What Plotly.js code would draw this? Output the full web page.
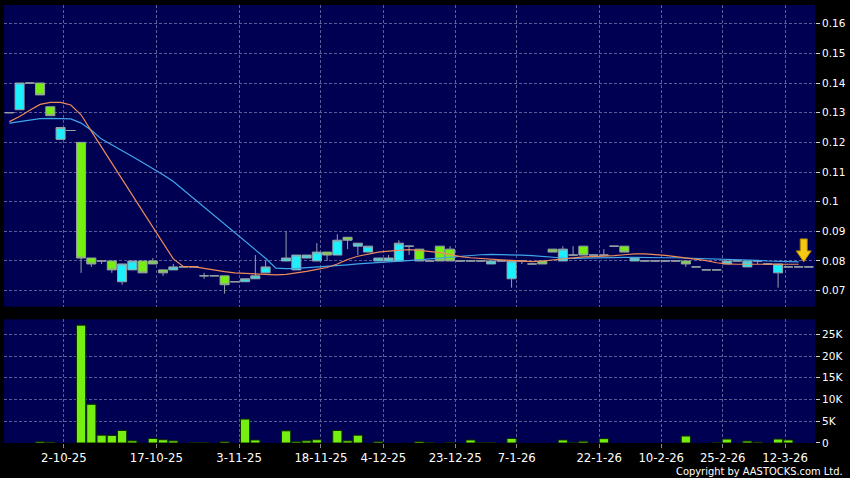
<!DOCTYPE html>
<html><head><meta charset="utf-8">
<script src="https://cdn.plot.ly/plotly-3.0.1.min.js"></script>
<style>html,body{margin:0;padding:0;background:#000;}#chart{width:850px;height:478px;}</style>
</head><body><div id="chart"></div>
<script>
// one entry per trading slot (0..78); null = no mark
const openP  = [0.130,0.131,0.140,0.140,0.132,0.121,0.124,0.120,0.081,0.080,
                0.080,0.073,0.077,0.080,0.080,0.077,0.077,0.078,0.078,0.075,
                0.075,0.075,0.073,0.073,0.074,0.076,null,0.080,0.077,0.081,
                0.080,0.083,0.082,0.088,0.085,0.083,0.080,0.080,0.080,0.085,
                0.084,0.080,0.085,0.084,0.080,0.080,0.080,0.079,0.080,0.074,
                0.080,0.079,0.080,0.084,0.080,0.082,0.085,0.082,0.082,0.085,
                0.085,0.080,0.080,0.080,0.080,0.080,0.080,0.078,0.077,0.077,
                0.079,0.080,0.078,0.080,0.079,0.076,0.078,0.078,0.078];
const highP  = [0.130,0.140,0.140,0.140,0.132,0.125,0.124,0.120,0.081,0.080,
                0.080,0.079,0.080,0.080,0.081,0.077,0.079,0.078,0.078,0.076,
                0.075,0.075,0.073,0.074,0.082,0.080,null,0.090,0.082,0.082,
                0.086,0.083,0.089,0.088,0.086,0.085,0.081,0.082,0.087,0.085,
                0.084,0.080,0.085,0.085,0.080,0.080,0.080,0.080,0.080,0.080,
                0.080,0.079,0.080,0.084,0.085,0.085,0.085,0.082,0.084,0.085,
                0.085,0.081,0.080,0.080,0.080,0.080,0.080,0.078,0.077,0.077,
                0.080,0.080,0.080,0.080,0.079,0.079,0.078,0.078,0.078];
const lowP   = [0.130,0.131,0.140,0.136,0.129,0.121,0.124,0.076,0.078,0.079,
                0.076,0.072,0.077,0.076,0.079,0.075,0.077,0.078,0.078,0.074,
                0.075,0.069,0.073,0.073,0.074,0.076,null,0.080,0.077,0.081,
                0.080,0.080,0.082,0.084,0.082,0.083,0.080,0.080,0.080,0.082,
                0.080,0.080,0.080,0.080,0.080,0.080,0.080,0.079,0.080,0.071,
                0.079,0.079,0.079,0.083,0.080,0.082,0.082,0.082,0.082,0.085,
                0.083,0.080,0.080,0.080,0.080,0.080,0.078,0.078,0.077,0.077,
                0.079,0.080,0.078,0.079,0.079,0.071,0.078,0.078,0.078];
const closeP = [0.130,0.140,0.140,0.136,0.129,0.125,0.124,0.081,0.079,0.080,
                0.077,0.079,0.080,0.076,0.079,0.076,0.078,0.078,0.078,0.075,
                0.075,0.072,0.073,0.074,0.075,0.078,null,0.081,0.082,0.082,
                0.083,0.082,0.087,0.087,0.086,0.085,0.081,0.081,0.086,0.085,
                0.080,0.080,0.080,0.080,0.080,0.080,0.080,0.080,0.080,0.080,
                0.080,0.079,0.079,0.083,0.084,0.082,0.082,0.082,0.082,0.085,
                0.083,0.081,0.080,0.080,0.080,0.080,0.079,0.078,0.077,0.077,
                0.080,0.080,0.080,0.080,0.079,0.079,0.078,0.078,0.078];
// volume in thousands of shares
const volumeK = [0,0,0,0.3,0.2,0,0,27.1,8.9,1.8,
                 1.75,2.9,0.5,0,1.05,0.75,0.5,0,0.1,0.05,
                 0,0.3,0,5.5,0.7,0,0,2.8,0.3,0.5,
                 0.75,0,2.9,0.5,1.8,0,0.3,0,0,0,
                 0.35,0.08,0,0.08,0,0.7,0.08,0.05,0,1.05,
                 0,0,0,0,0.7,0.08,0.4,0,1.0,0,
                 0,0,0,0,0,0,1.6,0,0,0.05,
                 0.9,0,0.45,0.2,0,0.9,0.7,0,0];
const maFast = [0.1270,0.1287,0.1308,0.1328,0.1335,0.1335,0.1326,0.1293,0.1238,0.1183,
                0.1131,0.1076,0.1022,0.0968,0.0915,0.0861,0.0807,0.0781,0.0781,0.0775,
                0.0769,0.0764,0.0760,0.0758,0.0755,0.0754,0.0753,0.0755,0.0759,0.0765,
                0.0772,0.0778,0.0790,0.0805,0.0816,0.0824,0.0830,0.0833,0.0836,0.0838,
                0.0836,0.0833,0.0828,0.0822,0.0815,0.0811,0.0808,0.0806,0.0804,0.0802,
                0.0800,0.0798,0.0800,0.0804,0.0808,0.0811,0.0814,0.0815,0.0816,0.0818,
                0.0821,0.0824,0.0824,0.0822,0.0819,0.0815,0.0811,0.0807,0.0801,0.0794,
                0.0790,0.0789,0.0789,0.0789,0.0789,0.0789,0.0789,0.0789];
const maSlow = [0.1265,0.1270,0.1276,0.1280,0.1281,0.1280,0.1279,0.1265,0.1241,0.1211,
                0.1192,0.1172,0.1152,0.1132,0.1112,0.1091,0.1068,0.1039,0.1009,0.0980,
                0.0952,0.0925,0.0896,0.0867,0.0838,0.0809,0.0776,0.0774,0.0775,0.0777,
                0.0779,0.0781,0.0784,0.0787,0.0790,0.0792,0.0795,0.0798,0.0800,0.0802,
                0.0804,0.0807,0.0810,0.0814,0.0817,0.0819,0.0821,0.0822,0.0822,0.0821,
                0.0820,0.0818,0.0815,0.0812,0.0810,0.0809,0.0810,0.0811,0.0811,0.0812,
                0.0812,0.0812,0.0811,0.0811,0.0811,0.0811,0.0810,0.0810,0.0809,0.0808,
                0.0806,0.0805,0.0803,0.0802,0.0800,0.0799,0.0798,0.0797];
const dateTickPos  = [5.32,14.34,22.41,30.4,36.49,43.5,49.5,57.55,63.6,69.6,75.68];
const dateTickText = ['2-10-25','17-10-25','3-11-25','18-11-25','4-12-25','23-12-25','7-1-26','22-1-26','10-2-26','25-2-26','12-3-26'];
const priceTicks    = [0.07,0.08,0.09,0.10,0.11,0.12,0.13,0.14,0.15,0.16];
const priceTickText = ['0.07','0.08','0.09','0.1','0.11','0.12','0.13','0.14','0.15','0.16'];
const volTicks    = [0,5,10,15,20,25];
const volTickText = ['0','5K','10K','15K','20K','25K'];

const idx = openP.map((_, i) => i);
const maIdx = maFast.map((_, i) => i);
const GRID = '#5c5c96';
const LIME = '#77ee12';
const CYAN = '#1cf0ff';
const EDGE = '#97a2a4';
const FONT = 'DejaVu Sans, sans-serif';

const traces = [
  {type:'candlestick', x: idx, open: openP, high: highP, low: lowP, close: closeP,
   xaxis:'x', yaxis:'y', whiskerwidth:0, hoverinfo:'skip', showlegend:false,
   increasing:{fillcolor: CYAN, line:{color: EDGE, width:1}},
   decreasing:{fillcolor: LIME, line:{color: EDGE, width:1}}},
  {type:'scatter', mode:'lines', x: maIdx, y: maSlow, xaxis:'x', yaxis:'y',
   line:{color:'#3fa6ea', width:1.2}, hoverinfo:'skip', showlegend:false},
  {type:'scatter', mode:'lines', x: maIdx, y: maFast, xaxis:'x', yaxis:'y',
   line:{color:'#ee8a58', width:1.2}, hoverinfo:'skip', showlegend:false},
  {type:'bar', x: idx, y: volumeK.map(v => v > 0 ? v : null), xaxis:'x2', yaxis:'y2',
   marker:{color: LIME, line:{color:'#0b2a00', width:1}}, hoverinfo:'skip', showlegend:false}
];

const xRange = [-0.52, 78.6];
const gridAxis = {showgrid:true, gridcolor: GRID, griddash:'3px,2px', gridwidth:1,
                  zeroline:false, showline:false};

const layout = {
  width:850, height:478, paper_bgcolor:'#000000', plot_bgcolor:'#000052',
  margin:{l:4, r:35, t:5, b:35}, showlegend:false,
  boxgap:0.12, boxgroupgap:0, bargap:0.1,
  xaxis: Object.assign({}, gridAxis, {domain:[0,1], anchor:'y', range:xRange,
    tickmode:'array', tickvals: dateTickPos, showticklabels:false, ticks:'',
    rangeslider:{visible:false}, fixedrange:true}),
  xaxis2: Object.assign({}, gridAxis, {domain:[0,1], anchor:'y2', range:xRange, matches:'x',
    tickmode:'array', tickvals: dateTickPos, ticktext: dateTickText,
    ticks:'outside', ticklen:4, tickcolor:'#8a8a8a', tickwidth:1,
    tickfont:{family: FONT, size:11.7, color:'#ffffff'}}),
  yaxis: Object.assign({}, gridAxis, {domain:[0.3112,1], anchor:'x', side:'right',
    range:[0.06459,0.16631], tickmode:'array', tickvals: priceTicks, ticktext: priceTickText,
    ticks:'outside', ticklen:4, tickcolor:'#cfcfcf', tickwidth:1, automargin:false,
    tickfont:{family: FONT, size:10.5, color:'#ffffff'}}),
  yaxis2: Object.assign({}, gridAxis, {domain:[0,0.2824], anchor:'x2', side:'right',
    range:[0,28.44], tickmode:'array', tickvals: volTicks, ticktext: volTickText,
    ticks:'outside', ticklen:4, tickcolor:'#cfcfcf', tickwidth:1, automargin:false,
    tickfont:{family: FONT, size:10.5, color:'#ffffff'}}),
  annotations:[{text:'Copyright by AASTOCKS.com Ltd.', xref:'paper', yref:'paper',
    x:1.037, y:-0.064, xanchor:'right', yanchor:'middle', showarrow:false,
    font:{family:'DejaVu Sans Condensed, Liberation Sans Narrow, DejaVu Sans, sans-serif', size:11, color:'#ffffff'}}],
  shapes:[{type:'path', xref:'x', yref:'y', xsizemode:'pixel', ysizemode:'pixel',
    xanchor: idx.length - 1.5, yanchor: maSlow[maSlow.length - 1],
    path:'M0,0 L-7.5,11 L-3.5,11 L-3.5,23 L3.5,23 L3.5,11 L7.5,11 Z',
    fillcolor:'#f6c814', line:{color:'#a88400', width:1}}]
};

Plotly.newPlot('chart', traces, layout, {staticPlot:true, displayModeBar:false});
</script></body></html>
